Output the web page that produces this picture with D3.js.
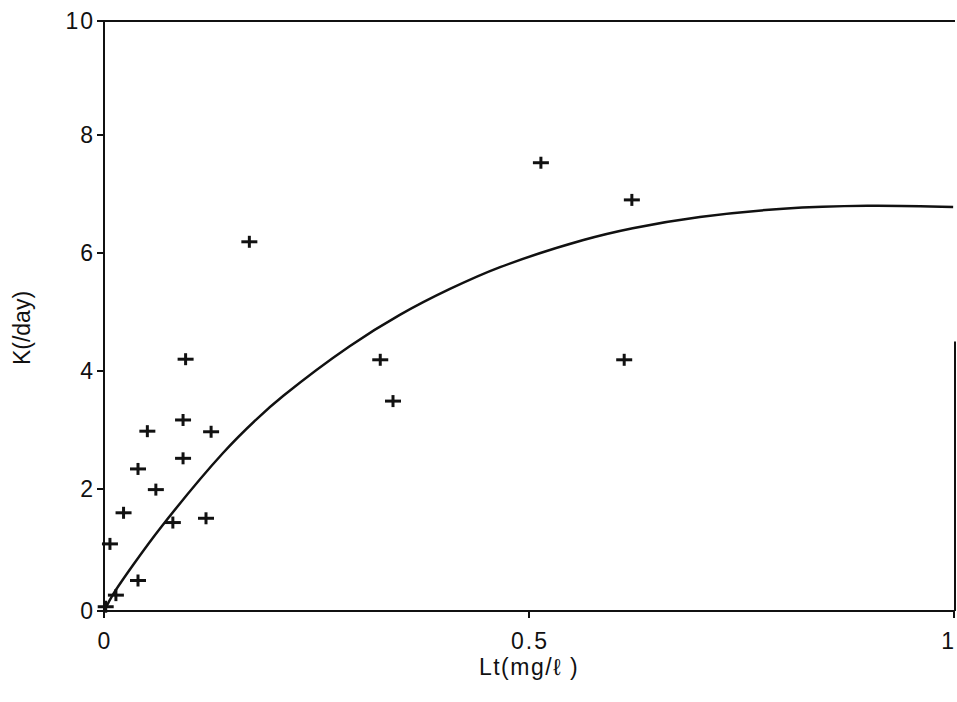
<!DOCTYPE html>
<html>
<head>
<meta charset="utf-8">
<script src="https://cdn.jsdelivr.net/npm/d3@7"></script>
<style>
  body { margin: 0; background: #fff; }
  svg text { font-family: "Liberation Sans", Arial, sans-serif; fill: #111; }
  .tick-label { font-size: 23px; letter-spacing: 2px; }
  .axis-title { font-size: 23px; }
</style>
</head>
<body>
<div id="chart"></div>
<script>
// measured points (Lt, K)
const ptLt = [0.514, 0.621, 0.171, 0.325, 0.612, 0.340, 0.096, 0.093, 0.051, 0.126,
              0.040, 0.093, 0.061, 0.023, 0.081, 0.120, 0.007, 0.040, 0.014, 0.002];
const ptK  = [7.53, 6.90, 6.19, 4.19, 4.19, 3.49, 4.20, 3.17, 2.98, 2.97,
              2.34, 2.52, 1.99, 1.61, 1.45, 1.52, 1.10, 0.50, 0.26, 0.07];

// fitted curve
const curveLt = [0.002, 0.011, 0.034, 0.068, 0.140, 0.180, 0.211, 0.289, 0.348,
                 0.407, 0.466, 0.564, 0.622, 0.701, 0.799, 0.898, 0.999];
const curveK  = [0.05, 0.28, 0.75, 1.39, 2.61, 3.19, 3.58, 4.42, 4.95,
                 5.39, 5.76, 6.22, 6.42, 6.61, 6.75, 6.80, 6.78];

const xTicks = [0, 0.5, 1];
const xTickText = ["0", "0.5", "1"];
const yTicks = [0, 2, 4, 6, 8, 10];

const width = 957, height = 702;

var svg = d3.select("#chart").append("svg")
    .attr("width", width)
    .attr("height", height);

// x axis spans 104..954, y axis 611 (0) .. 21 (10); the scan is a bit uneven so y is piecewise
var x = d3.scaleLinear().domain([0, 1]).range([104, 954]);
var y = d3.scaleLinear().domain(yTicks).range([611, 489, 371, 253, 135, 21]);

var frame = svg.append("g").attr("stroke", "#111").attr("stroke-width", 2).attr("fill", "none");

// left and bottom axes
frame.append("line").attr("x1", x(0)).attr("x2", x(0)).attr("y1", y(0) + 1).attr("y2", y(10));
frame.append("line").attr("x1", x(0)).attr("x2", x(1)).attr("y1", y(0)).attr("y2", y(0));
// top border
frame.append("line").attr("x1", x(0) - 3).attr("x2", x(1) + 1).attr("y1", y(10)).attr("y2", y(10));
// right border, only the lower part shows in the scan
frame.append("line").attr("x1", x(1) + 1).attr("x2", x(1) + 1).attr("y1", y(0)).attr("y2", y(4.5));

// y ticks
frame.selectAll(".ytick").data(yTicks).enter().append("line")
    .attr("x1", x(0) - 7).attr("x2", x(0))
    .attr("y1", d => y(d)).attr("y2", d => y(d));

svg.selectAll(".ylab").data(yTicks).enter().append("text")
    .attr("class", "tick-label")
    .attr("x", x(0) - 9)
    .attr("y", d => y(d))
    .attr("dy", "0.36em")
    .attr("text-anchor", "end")
    .text(d => d);

// x ticks
frame.selectAll(".xtick").data(xTicks).enter().append("line")
    .attr("x1", d => x(d)).attr("x2", d => x(d))
    .attr("y1", y(0)).attr("y2", y(0) + 7);

svg.selectAll(".xlab").data(xTicks).enter().append("text")
    .attr("class", "tick-label")
    .attr("x", (d, i) => i == xTicks.length - 1 ? width - 1 : x(d) + 1)
    .attr("y", 649)
    .attr("text-anchor", (d, i) => i == xTicks.length - 1 ? "end" : "middle")
    .text((d, i) => xTickText[i]);

// axis titles
svg.append("text")
    .attr("class", "axis-title")
    .attr("x", x(0.5))
    .attr("y", 675)
    .attr("text-anchor", "middle")
    .style("letter-spacing", "1.5px")
    .text("Lt(mg/\u2113 )");

svg.append("text")
    .attr("class", "axis-title")
    .attr("transform", "translate(30,328) rotate(-90)")
    .attr("text-anchor", "middle")
    .text("K(/day)");

// fitted curve
var curveData = curveLt.map((d, i) => [d, curveK[i]]);
var line = d3.line()
    .x(d => x(d[0]))
    .y(d => y(d[1]))
    .curve(d3.curveCatmullRom);

svg.append("path")
    .datum(curveData)
    .attr("d", line)
    .attr("fill", "none")
    .attr("stroke", "#111")
    .attr("stroke-width", 2.5);

// plus markers
var pts = ptLt.map((d, i) => [d, ptK[i]]);
var marks = svg.append("g").attr("stroke", "#111").attr("stroke-width", 3);
marks.selectAll(".h").data(pts).enter().append("line")
    .attr("x1", d => x(d[0]) - 8).attr("x2", d => x(d[0]) + 8)
    .attr("y1", d => y(d[1])).attr("y2", d => y(d[1]));
marks.selectAll(".v").data(pts).enter().append("line")
    .attr("x1", d => x(d[0])).attr("x2", d => x(d[0]))
    .attr("y1", d => y(d[1]) - 6).attr("y2", d => y(d[1]) + 6);
</script>
</body>
</html>
